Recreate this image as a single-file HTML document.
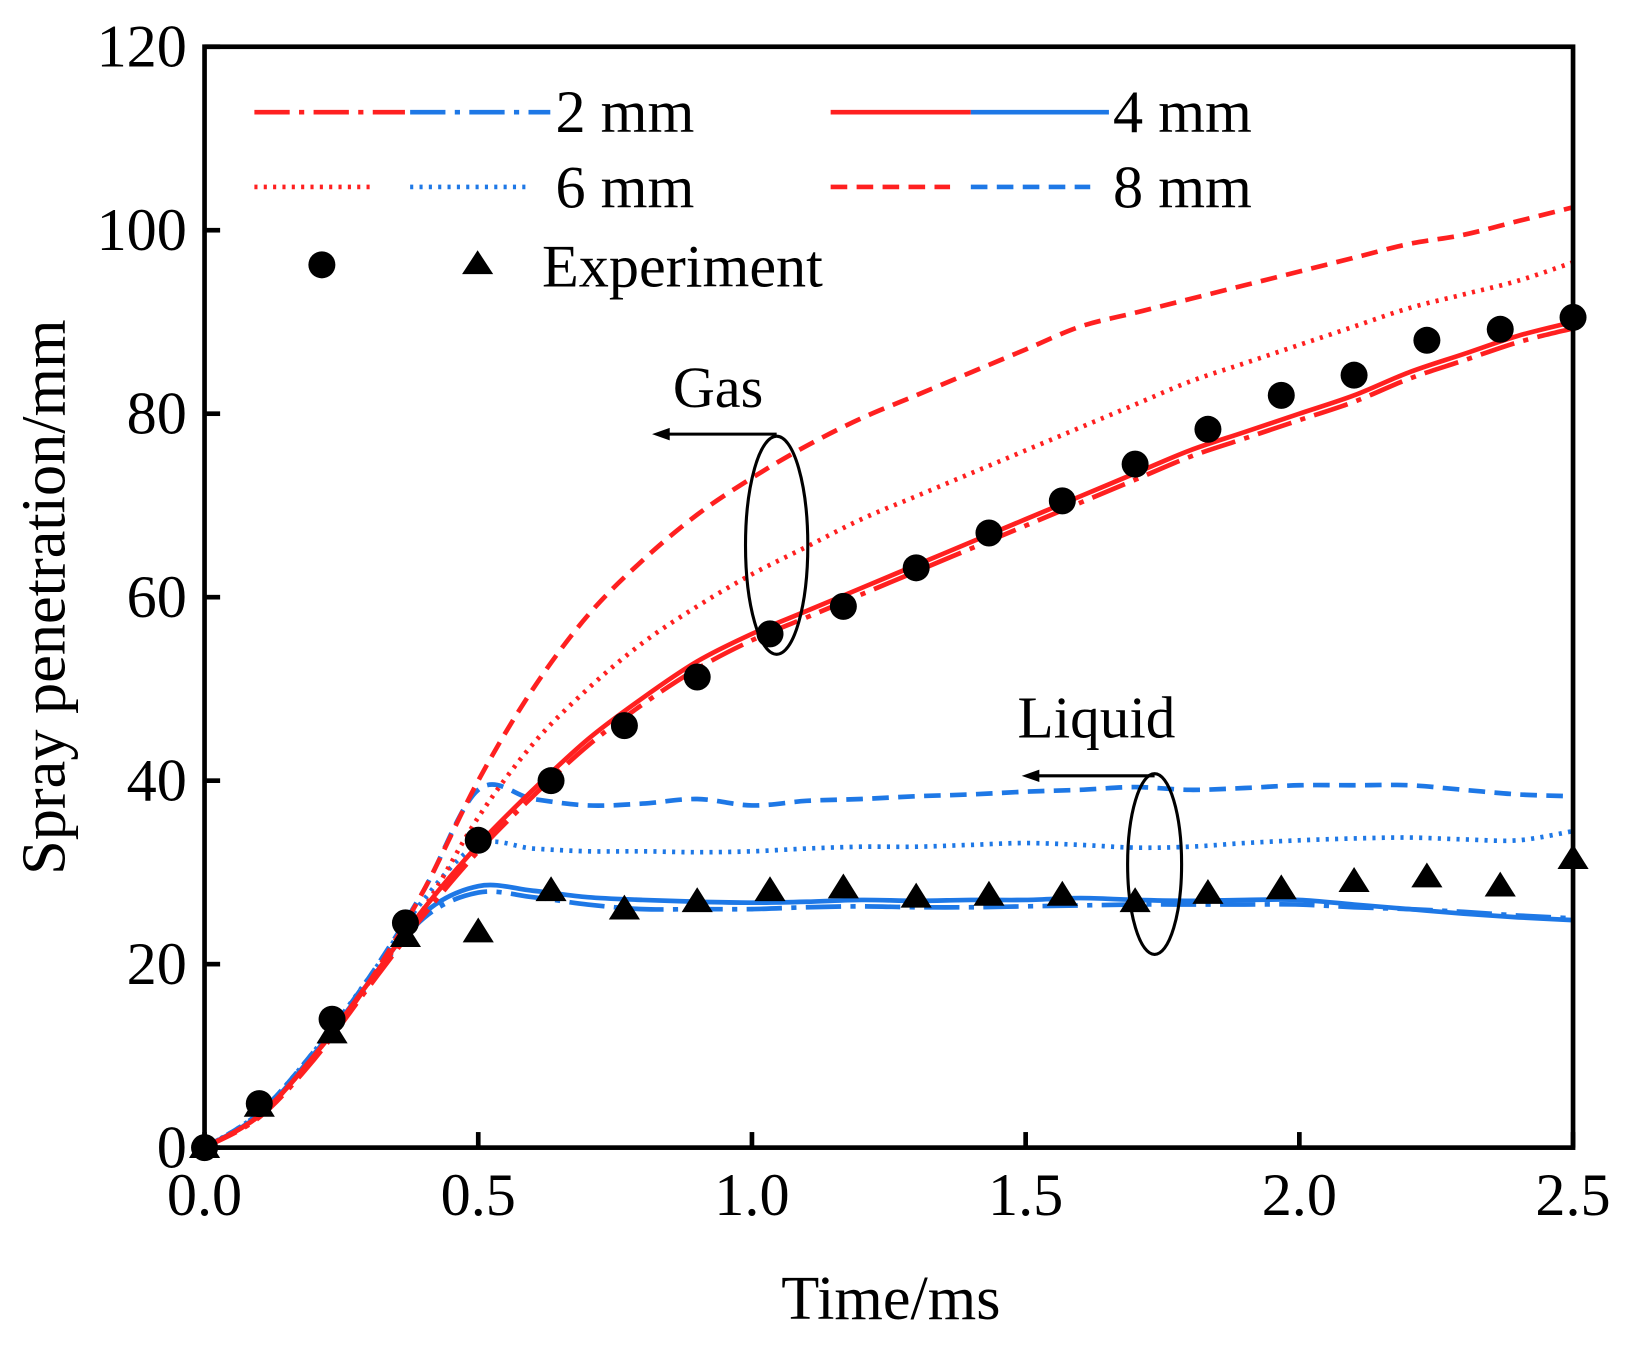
<!DOCTYPE html>
<html><head><meta charset="utf-8"><style>
html,body{margin:0;padding:0;background:#fff}
svg{display:block}
text{font-family:"Liberation Serif",serif;fill:#000}
</style></head><body>
<svg id="chart" width="1626" height="1346" viewBox="0 0 1566 1296" preserveAspectRatio="none" xmlns="http://www.w3.org/2000/svg">
<g id="plot"></g>
<g id="axes"></g>
<g>
 <line x1="245" y1="108" x2="390" y2="108" stroke="#ff2020" stroke-width="4.5" stroke-dasharray="34,9,5,9"/>
 <line x1="395" y1="108" x2="530" y2="108" stroke="#1e78e6" stroke-width="4.5" stroke-dasharray="34,9,5,9"/>
 <text x="535" y="127" font-size="58">2 mm</text>
 <line x1="800" y1="108" x2="935" y2="108" stroke="#ff2020" stroke-width="4.5"/>
 <line x1="935" y1="108" x2="1068" y2="108" stroke="#1e78e6" stroke-width="4.5"/>
 <text x="1072" y="127" font-size="58">4 mm</text>
 <line x1="245" y1="180" x2="360" y2="180" stroke="#ff2020" stroke-width="4.5" stroke-dasharray="3,6"/>
 <line x1="395" y1="180" x2="510" y2="180" stroke="#1e78e6" stroke-width="4.5" stroke-dasharray="3,6"/>
 <text x="535" y="200" font-size="58">6 mm</text>
 <line x1="800" y1="180" x2="915" y2="180" stroke="#ff2020" stroke-width="4.5" stroke-dasharray="16,9"/>
 <line x1="935" y1="180" x2="1050" y2="180" stroke="#1e78e6" stroke-width="4.5" stroke-dasharray="16,9"/>
 <text x="1072" y="200" font-size="58">8 mm</text>
 <circle cx="310" cy="255" r="13" fill="#000"/>
 <polygon points="460,241 475,264 445,264" fill="#000"/>
 <text x="522" y="276" font-size="58">Experiment</text>
</g>
<g>
 <text x="648" y="392" font-size="56">Gas</text>
 <line x1="748" y1="418" x2="640" y2="418" stroke="#000" stroke-width="3"/>
 <polygon points="628,418 645,412 645,424" fill="#000"/>
 <ellipse cx="748" cy="525" rx="30" ry="105" fill="none" stroke="#000" stroke-width="3"/>
</g>
<g>
 <text x="980" y="710" font-size="57">Liquid</text>
 <line x1="1112" y1="747" x2="996" y2="747" stroke="#000" stroke-width="3"/>
 <polygon points="984,747 1001,741 1001,753" fill="#000"/>
 <ellipse cx="1112" cy="832" rx="26" ry="87" fill="none" stroke="#000" stroke-width="3"/>
</g>
</svg>
<script>
const times=[0,0.1,0.2,0.3,0.4,0.5,0.6,0.7,0.8,0.9,1.0,1.1,1.2,1.3,1.4,1.5,1.6,1.7,1.8,1.9,2.0,2.1,2.2,2.3,2.4,2.5];
const gas8=[0,3.5,10,18,28,40,50,58,64,69,73,76.5,79.5,82,84.5,87,89.5,91,92.5,94,95.5,97,98.5,99.5,101,102.5];
const gas6=[0,3.5,10,18,26,36,44,50,55,59,62.5,65.5,68.5,71,73.5,76,78.5,81,83.5,85.5,87.5,89.5,91.5,93,94.5,96.5];
const gas4=[0,3.5,10,18,26,33,39,44.5,49,53,56,58.5,61,63.5,66,68.5,71,73.5,76,78,80,82,84.5,86.5,88.5,90];
const gas2=[0,3.3,9.6,17.5,25.3,32.3,38.3,43.8,48.3,52.2,55.3,57.8,60.3,62.8,65.3,67.8,70.3,72.8,75.3,77.3,79.3,81.3,83.8,85.8,87.8,89.3];
const liq8=[0,3.8,10.5,18.5,28,39,38,37.3,37.5,38,37.3,37.8,38,38.3,38.5,38.8,39,39.3,39,39.2,39.5,39.5,39.5,39,38.5,38.3];
const liq6=[0,3.8,10.5,18.5,27,33,32.6,32.3,32.3,32.2,32.3,32.6,32.8,32.8,33,33.2,33,32.7,32.8,33.2,33.5,33.7,33.8,33.6,33.5,34.5];
const liq4=[0,3.6,10.2,18,25.5,28.5,28,27.3,27,26.8,26.7,26.8,27,26.9,27,27,27.2,27,26.9,27,27,26.5,26,25.5,25.1,24.8];
const liq2=[0,3.6,10.2,17.8,25,27.8,27.3,26.5,26,26,26,26.2,26.3,26.2,26.2,26.3,26.4,26.5,26.5,26.5,26.5,26.2,26,25.7,25.3,25];
const expTimes=[0,0.1,0.233,0.367,0.5,0.633,0.767,0.9,1.033,1.167,1.3,1.433,1.567,1.7,1.833,1.967,2.1,2.233,2.367,2.5];
const expGas=[0,4.8,14,24.5,33.5,40,46,51.3,56,59,63.2,67,70.5,74.5,78.3,82,84.2,88,89.2,90.5];
const expLiquid=[0,4.5,12.5,23,23.5,28,26,26.8,28,28.3,27.3,27.5,27.5,26.8,27.7,28.2,29,29.5,28.5,31.5];
const xTicks=["0.0","0.5","1.0","1.5","2.0","2.5"];
const yTicks=["0","20","40","60","80","100","120"];

const NS="http://www.w3.org/2000/svg";
const L=197,R=1515,T=45,B=1105;
const xs=t=>L+(t/2.5)*(R-L);
const ys=v=>B-(v/120)*(B-T);
const plot=document.getElementById('plot'),axes=document.getElementById('axes');
function mk(tag,attrs,parent){const e=document.createElementNS(NS,tag);for(const k in attrs)e.setAttribute(k,attrs[k]);parent.appendChild(e);return e;}
function pathD(xv,yv){const p=xv.map((t,i)=>[xs(t),ys(yv[i])]);let d="M"+p[0][0]+","+p[0][1];
 for(let i=0;i<p.length-1;i++){const p0=p[i-1]||p[i],p1=p[i],p2=p[i+1],p3=p[i+2]||p2;
 const c1=[p1[0]+(p2[0]-p0[0])/6,p1[1]+(p2[1]-p0[1])/6],c2=[p2[0]-(p3[0]-p1[0])/6,p2[1]-(p3[1]-p1[1])/6];
 d+=" C"+c1+" "+c2+" "+p2;}return d;}
const series=[[liq2,"#1e78e6","34,9,5,9","liquid-2mm"],[liq4,"#1e78e6","","liquid-4mm"],[liq6,"#1e78e6","3,6","liquid-6mm"],[liq8,"#1e78e6","16,9","liquid-8mm"],
[gas2,"#ff2020","34,9,5,9","gas-2mm"],[gas4,"#ff2020","","gas-4mm"],[gas6,"#ff2020","3,6","gas-6mm"],[gas8,"#ff2020","16,9","gas-8mm"]];
series.forEach(s=>{const e=mk('path',{d:pathD(times,s[0]),fill:"none",stroke:s[1],"stroke-width":4.5,"stroke-dasharray":s[2]},plot);
 
 });
expTimes.forEach((t,i)=>{const c=mk('circle',{cx:xs(t),cy:ys(expGas[i]),r:13,fill:"#000"},plot);
 
 
 const x=xs(t),y=ys(expLiquid[i]);
 const tr=mk('polygon',{points:`${x},${y-14} ${x+15},${y+10} ${x-15},${y+10}`,fill:"#000"},plot);
 
 });
const fr=mk('rect',{x:L,y:T,width:R-L,height:B-T,fill:"none",stroke:"#000","stroke-width":4.5},axes);


xTicks.forEach(lb=>{const x=xs(parseFloat(lb));mk('line',{x1:x,y1:B,x2:x,y2:B-15,stroke:"#000","stroke-width":4.5},axes);
 const tx=mk('text',{x:x,y:1170,"font-size":58,"text-anchor":"middle"},axes);tx.textContent=lb;
 
 });
yTicks.forEach(lb=>{const y=ys(parseFloat(lb));mk('line',{x1:L,y1:y,x2:L+15,y2:y,stroke:"#000","stroke-width":4.5},axes);
 const tx=mk('text',{x:180,y:y+19,"font-size":58,"text-anchor":"end"},axes);tx.textContent=lb;
 
 });
const xt=mk('text',{x:858,y:1270,"font-size":60,"text-anchor":"middle"},axes);xt.textContent="Time/ms";


const yt=mk('text',{x:0,y:0,"font-size":60,"text-anchor":"middle",transform:"translate(62,575) rotate(-90)"},axes);yt.textContent="Spray penetration/mm";


</script>
</body></html>
